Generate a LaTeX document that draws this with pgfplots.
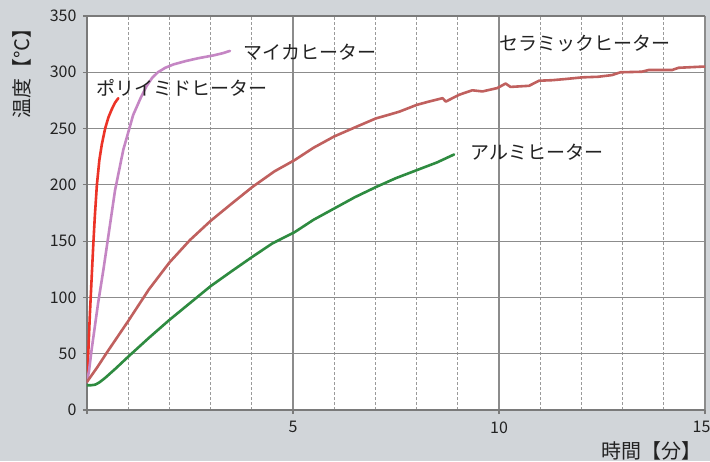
\documentclass[border=0pt]{standalone}
\usepackage{fontspec}
\setmainfont{Noto Sans CJK JP}
\usepackage{pgfplots}
\pgfplotsset{compat=1.18}
\definecolor{bg}{HTML}{D1D5D9}
\definecolor{gridc}{HTML}{8C8C8C}
\definecolor{gridd}{HTML}{9A9A9A}
\definecolor{axc}{HTML}{7A7A7A}
\definecolor{tl}{HTML}{222222}
\definecolor{cred}{HTML}{EC3327}
\definecolor{cpink}{HTML}{C586C4}
\definecolor{cbrown}{HTML}{C0605E}
\definecolor{cgreen}{HTML}{2E8B40}
\begin{document}
\begin{tikzpicture}
\path[fill=bg, use as bounding box] (-87pt,-51pt) rectangle (623pt,410pt);
\begin{axis}[
  at={(0pt,0pt)}, anchor=south west,
  scale only axis, width=618pt, height=394pt,
  xmin=0, xmax=15, ymin=0, ymax=350,
  xtick={0,5,10,15}, xticklabels={,5,10,{\hspace*{-7pt}15}},
  minor xtick={1,2,3,4,6,7,8,9,11,12,13,14},
  ytick={0,50,...,350},
  axis background/.style={fill=white},
  grid=both,
  major grid style={draw=gridc, line width=1.1pt},
  minor grid style={draw=gridd, dash pattern=on 3pt off 2pt, line width=0.7pt},
  axis x line=box, axis y line=left,
  axis line style={-, draw=axc, line width=1.4pt},
  xtick pos=bottom, ytick pos=left,
  tick align=outside, major tick length=4pt, minor tick length=0pt,
  tick style={draw=axc, line width=1.1pt},
  ticklabel style={font=\fontsize{16}{16}\selectfont, text=tl},
  xticklabel style={yshift=-4pt},
  yticklabel style={xshift=-3pt},
  /pgf/number format/assume math mode=true,
  every axis plot/.append style={line width=2.6pt, line join=round, line cap=round},
]
% polyimide heater
\addplot[cred] coordinates {
(0,25) (0.03,50) (0.07,85) (0.11,115) (0.15,145) (0.19,172) (0.24,200)
(0.30,222) (0.36,236) (0.44,250) (0.52,260) (0.60,267) (0.68,273) (0.76,277)};
% mica heater
\addplot[cpink] coordinates {
(0,25) (0.05,35) (0.11,53) (0.27,95) (0.40,125) (0.52,155) (0.68,195) (0.88,231)
(0.95,240) (1.12,262) (1.30,277) (1.45,288) (1.58,295) (1.72,300) (1.9,304) (2.1,307)
(2.4,310) (2.7,312.5) (3.07,315) (3.30,317) (3.47,319)};
% ceramic heater
\addplot[cbrown] coordinates {
(0,25) (0.25,38) (0.5,52) (1.0,79) (1.5,107) (2.0,131) (2.5,151) (3.0,168)
(3.5,183) (4.01,198) (4.55,212) (5.04,222) (5.5,233) (6.0,243) (6.5,251)
(7.01,259) (7.3,262) (7.58,265) (8.0,271) (8.3,274) (8.63,277) (8.71,274)
(9.03,280) (9.35,284) (9.6,283) (9.96,286) (10.16,290) (10.28,287) (10.73,288)
(10.97,292.5) (11.3,293) (11.61,294) (12.02,295.5) (12.4,296) (12.74,297.5)
(12.95,300) (13.47,300.5) (13.63,302) (14.2,302) (14.36,304) (14.92,305) (15,305)};
% aluminium heater
\addplot[cgreen] coordinates {
(0,22) (0.1,22) (0.2,22.5) (0.3,24.5) (0.44,28.5) (0.7,37) (0.99,47) (1.5,64) (2.0,80) (2.5,95)
(3.0,110) (3.5,123) (4.01,136) (4.5,148) (5.04,158) (5.5,169) (6.0,179)
(6.5,189) (7.01,198) (7.5,206) (8.0,213) (8.5,220) (8.91,227)};
\node[anchor=west, inner sep=0pt, font=\fontsize{19}{19}\selectfont, text=tl] at (axis cs:0.22,286) {ポリイミドヒーター};
\node[anchor=west, inner sep=0pt, font=\fontsize{19}{19}\selectfont, text=tl] at (axis cs:3.79,318) {マイカヒーター};
\node[anchor=west, inner sep=0pt, font=\fontsize{19}{19}\selectfont, text=tl] at (axis cs:10.0,326) {セラミックヒーター};
\node[anchor=west, inner sep=0pt, font=\fontsize{19}{19}\selectfont, text=tl] at (axis cs:9.31,229) {アルミヒーター};
\end{axis}
\node[rotate=90, inner sep=0pt, font=\fontsize{20}{20}\selectfont, text=tl] at (-65pt,341pt) {温度【℃】};
\node[inner sep=0pt, font=\fontsize{20}{20}\selectfont, text=tl] at (564pt,-41pt) {時間【分】};
\end{tikzpicture}
\end{document}
